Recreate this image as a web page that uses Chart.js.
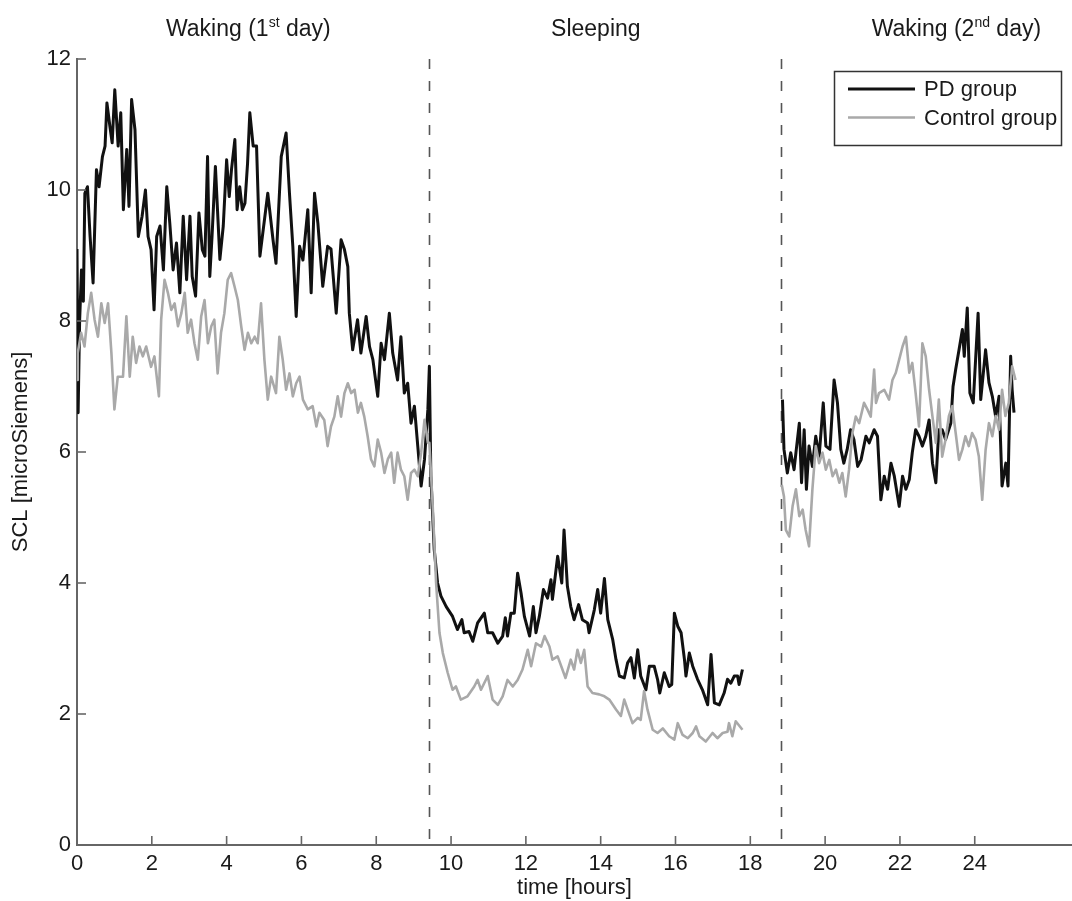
<!DOCTYPE html>
<html>
<head>
<meta charset="utf-8">
<title>SCL PD vs Control</title>
<script src="https://cdn.jsdelivr.net/npm/chart.js@4.4.1/dist/chart.umd.min.js"></script>
<style>
  body { margin: 0; background: #fff; }
  #wrap { width: 1072px; height: 901px; }
</style>
</head>
<body>
<div id="wrap"><canvas id="grafico" width="1072" height="901"></canvas></div>
<script>
// hours / SCL values (null = gap between sleep and 2nd day)
const pdTime = [
  0.00,0.03,0.07,0.12,0.17,0.21,0.28,0.35,0.43,0.52,0.59,0.68,0.75,0.80,0.88,0.94,1.01,1.10,1.17,1.24,
  1.33,1.39,1.46,1.55,1.64,1.74,1.83,1.90,1.98,2.06,2.13,2.22,2.31,2.40,2.48,2.57,2.66,2.75,2.84,2.93,
  3.02,3.08,3.17,3.26,3.35,3.42,3.49,3.55,3.61,3.70,3.82,3.91,4.00,4.07,4.13,4.22,4.28,4.35,4.42,4.49,
  4.56,4.62,4.71,4.80,4.89,5.10,5.24,5.32,5.46,5.59,5.68,5.77,5.86,5.95,6.04,6.17,6.26,6.35,6.44,6.57,
  6.70,6.79,6.93,7.06,7.15,7.24,7.28,7.37,7.50,7.59,7.73,7.82,7.91,8.04,8.13,8.22,8.35,8.44,8.57,8.66,
  8.75,8.84,8.93,9.02,9.11,9.20,9.29,9.38,9.42,9.46,9.51,9.55,9.64,9.73,9.87,10.04,10.17,10.29,10.35,10.48,
  10.58,10.71,10.89,10.98,11.11,11.25,11.38,11.45,11.51,11.60,11.69,11.78,11.87,11.96,12.10,12.20,12.27,12.36,12.47,12.58,
  12.67,12.71,12.85,12.96,13.02,13.11,13.20,13.29,13.41,13.51,13.65,13.69,13.83,13.92,14.00,14.10,14.19,14.32,14.41,14.50,
  14.63,14.72,14.81,14.90,14.99,15.07,15.21,15.30,15.43,15.52,15.58,15.70,15.83,15.90,15.97,16.06,16.15,16.24,16.28,16.37,
  16.46,16.59,16.72,16.86,16.95,17.04,17.17,17.30,17.39,17.48,17.57,17.66,17.70,17.79,18.30,
  18.86,18.90,18.99,19.08,19.17,19.22,19.31,19.37,19.44,19.50,19.57,19.66,19.75,19.84,19.95,20.02,20.13,20.24,20.33,20.42,
  20.50,20.59,20.68,20.77,20.87,20.96,21.09,21.18,21.31,21.40,21.49,21.58,21.67,21.76,21.85,21.98,22.07,22.16,22.25,22.33,
  22.42,22.51,22.60,22.69,22.78,22.87,22.96,23.04,23.13,23.22,23.36,23.42,23.49,23.58,23.67,23.72,23.80,23.87,23.96,24.09,
  24.16,24.29,24.38,24.47,24.56,24.65,24.73,24.83,24.89,24.96,25.00,25.05
]
const pdScl = [
  9.10,6.60,8.00,8.78,8.30,9.95,10.05,9.29,8.58,10.31,10.05,10.51,10.67,11.33,10.97,10.72,11.53,10.67,11.18,9.70,
  10.62,9.75,11.38,10.92,9.29,9.60,10.00,9.29,9.09,8.17,9.29,9.45,8.78,10.05,9.50,8.78,9.19,8.43,9.60,8.63,
  9.60,8.68,8.38,9.65,9.09,8.99,10.51,8.68,9.29,10.36,8.94,9.45,10.46,9.90,10.31,10.77,9.70,10.05,9.70,9.80,
  10.41,11.18,10.67,10.67,8.99,9.95,9.24,8.88,10.51,10.87,9.95,9.14,8.07,9.14,8.93,9.70,8.43,9.95,9.49,8.53,
  9.14,9.10,8.12,9.24,9.09,8.83,8.12,7.56,8.02,7.51,8.07,7.61,7.41,6.85,7.66,7.41,8.12,7.51,7.10,7.76,
  6.90,7.05,6.44,6.70,6.09,5.48,5.89,6.65,7.31,5.63,5.02,4.51,4.00,3.80,3.64,3.49,3.29,3.44,3.24,3.26,
  3.11,3.39,3.54,3.24,3.24,3.08,3.19,3.47,3.19,3.54,3.54,4.15,3.85,3.49,3.19,3.64,3.24,3.49,3.90,3.77,
  4.05,3.75,4.41,4.00,4.81,3.95,3.64,3.44,3.67,3.44,3.39,3.24,3.59,3.90,3.54,4.07,3.44,3.14,2.83,2.58,
  2.55,2.78,2.86,2.55,2.98,2.58,2.37,2.73,2.73,2.53,2.32,2.63,2.42,2.45,3.54,3.34,3.24,2.83,2.58,2.93,
  2.73,2.53,2.37,2.14,2.91,2.17,2.14,2.32,2.53,2.47,2.58,2.58,2.45,2.68,null,
  6.80,6.04,5.68,5.99,5.73,5.99,6.44,5.53,6.34,5.43,6.09,5.78,6.24,5.93,6.75,6.09,6.04,7.10,6.75,6.04,
  5.83,6.04,6.34,6.19,5.78,5.88,6.24,6.14,6.34,6.24,5.27,5.63,5.43,5.83,5.63,5.17,5.63,5.43,5.58,5.99,
  6.34,6.24,6.09,6.24,6.49,5.83,5.53,6.34,6.34,6.19,6.44,7.00,7.26,7.56,7.87,7.46,8.20,6.90,6.75,8.12,
  6.80,7.56,7.06,6.85,6.54,6.85,5.48,5.83,5.48,7.46,6.95,6.60
]
const ctrlTime = [
  0.00,0.02,0.11,0.20,0.29,0.38,0.47,0.56,0.65,0.74,0.83,0.92,1.00,1.09,1.23,1.32,1.41,1.49,1.58,1.67,
  1.76,1.85,1.98,2.07,2.19,2.25,2.34,2.43,2.52,2.61,2.70,2.79,2.88,2.96,3.05,3.14,3.23,3.32,3.41,3.50,
  3.59,3.67,3.76,3.85,3.94,4.03,4.12,4.21,4.30,4.39,4.48,4.57,4.66,4.75,4.83,4.92,5.01,5.10,5.19,5.32,
  5.41,5.50,5.59,5.68,5.77,5.86,5.95,6.04,6.17,6.30,6.40,6.48,6.61,6.70,6.79,6.88,6.97,7.06,7.15,7.24,
  7.33,7.42,7.51,7.59,7.68,7.77,7.86,7.95,8.04,8.13,8.22,8.31,8.40,8.48,8.57,8.66,8.75,8.84,8.93,9.02,
  9.11,9.20,9.29,9.38,9.42,9.51,9.60,9.69,9.78,9.91,10.04,10.13,10.26,10.44,10.62,10.71,10.80,10.98,11.11,11.25,
  11.38,11.51,11.65,11.78,11.91,12.05,12.14,12.27,12.41,12.50,12.63,12.71,12.85,13.06,13.20,13.29,13.38,13.47,13.56,13.65,
  13.78,13.96,14.10,14.23,14.41,14.54,14.63,14.72,14.85,14.99,15.07,15.16,15.25,15.39,15.52,15.66,15.83,15.97,16.06,16.19,
  16.33,16.46,16.55,16.64,16.81,16.99,17.12,17.26,17.39,17.43,17.52,17.61,17.79,18.30,
  18.84,18.90,18.95,19.04,19.13,19.22,19.31,19.40,19.48,19.57,19.66,19.75,19.84,19.93,20.02,20.11,20.20,20.29,20.38,20.46,
  20.55,20.64,20.73,20.82,20.91,21.04,21.13,21.22,21.31,21.36,21.44,21.58,21.71,21.80,21.89,21.98,22.07,22.16,22.25,22.33,
  22.42,22.51,22.60,22.69,22.78,22.87,22.96,23.04,23.13,23.22,23.31,23.40,23.49,23.58,23.67,23.75,23.84,23.93,24.02,24.11,
  24.20,24.29,24.38,24.47,24.56,24.65,24.73,24.82,24.91,25.00,25.09
]
const ctrlScl = [
  7.10,7.51,7.82,7.61,8.12,8.43,8.02,7.76,8.27,7.97,8.27,7.51,6.65,7.15,7.15,8.07,7.15,7.76,7.36,7.61,
  7.46,7.61,7.30,7.46,6.85,8.02,8.63,8.43,8.17,8.27,7.92,8.12,8.43,7.82,8.02,7.66,7.41,8.07,8.32,7.66,
  7.92,8.02,7.20,7.82,8.12,8.63,8.73,8.53,8.32,7.92,7.56,7.82,7.66,7.76,7.66,8.27,7.41,6.80,7.15,6.90,
  7.76,7.41,6.95,7.20,6.85,7.05,7.15,6.80,6.65,6.70,6.39,6.60,6.49,6.09,6.39,6.54,6.85,6.54,6.90,7.05,
  6.90,6.95,6.60,6.75,6.54,6.24,5.89,5.78,6.19,5.99,5.68,5.89,5.99,5.53,5.99,5.73,5.63,5.27,5.68,5.73,
  5.63,5.99,6.49,6.14,6.14,5.17,4.00,3.24,2.93,2.63,2.37,2.42,2.22,2.27,2.42,2.52,2.37,2.58,2.22,2.14,
  2.27,2.52,2.42,2.52,2.68,2.98,2.73,3.08,3.03,3.19,3.03,2.83,2.88,2.55,2.83,2.68,2.98,2.78,2.98,2.42,
  2.32,2.30,2.27,2.22,2.07,1.97,2.22,2.07,1.86,1.94,1.91,2.35,2.07,1.76,1.71,1.78,1.66,1.61,1.86,1.68,
  1.63,1.71,1.81,1.66,1.58,1.71,1.63,1.71,1.73,1.86,1.66,1.89,1.76,null,
  5.50,5.32,4.81,4.71,5.17,5.43,5.02,5.12,4.81,4.56,5.43,6.09,5.83,5.99,5.73,5.88,5.63,5.73,5.53,5.68,
  5.32,5.73,6.29,6.54,6.44,6.75,6.65,6.54,7.26,6.75,6.90,6.95,6.80,7.10,7.21,7.41,7.61,7.76,7.21,7.36,
  6.90,6.39,7.66,7.46,6.95,6.54,6.14,6.80,5.93,6.19,6.55,6.70,6.29,5.88,6.04,6.24,6.09,6.29,6.19,5.93,
  5.27,6.03,6.44,6.24,6.55,6.34,6.95,6.55,6.75,7.31,7.10
]
const xTicks = [0, 2, 4, 6, 8, 10, 12, 14, 16, 18, 20, 22, 24]
const yTicks = [0, 2, 4, 6, 8, 10, 12]
const phaseDividers = [9.42, 18.83]
const phaseNames = [['Waking (1', 'st', ' day)'], ['Sleeping', '', ''], ['Waking (2', 'nd', ' day)']]
const phaseCenters = [4.58, 13.87, 23.51]

const FONT = '"Liberation Sans", Arial, Helvetica, sans-serif'
const toPoints = (xs, ys) => xs.map((x, i) => ({ x: x, y: ys[i] }))

// dashed phase lines, inward tick marks, phase titles and the boxed legend
const decorPlugin = {
  id: 'decor',
  beforeDatasetsDraw(chart) {
    const { ctx, chartArea, scales } = chart
    ctx.save()
    ctx.strokeStyle = '#555'
    ctx.lineWidth = 1.6
    ctx.setLineDash([10, 12])
    phaseDividers.forEach(h => {
      const px = Math.round(scales.x.getPixelForValue(h)) + 0.5
      ctx.beginPath()
      ctx.moveTo(px, chartArea.top)
      ctx.lineTo(px, chartArea.bottom)
      ctx.stroke()
    })
    ctx.restore()
  },
  afterDraw(chart) {
    const { ctx, chartArea, scales } = chart
    ctx.save()
    ctx.strokeStyle = '#666'
    ctx.lineWidth = 1.6
    xTicks.forEach(v => {
      if (v === 0) return
      const px = scales.x.getPixelForValue(v)
      ctx.beginPath()
      ctx.moveTo(px, chartArea.bottom)
      ctx.lineTo(px, chartArea.bottom - 9)
      ctx.stroke()
    })
    yTicks.forEach(v => {
      if (v === 0) return
      const py = scales.y.getPixelForValue(v)
      ctx.beginPath()
      ctx.moveTo(chartArea.left, py)
      ctx.lineTo(chartArea.left + 9, py)
      ctx.stroke()
    })

    // phase titles with superscripts
    ctx.fillStyle = '#1a1a1a'
    ctx.textBaseline = 'alphabetic'
    ctx.textAlign = 'left'
    phaseNames.forEach((parts, i) => {
      ctx.font = '23px ' + FONT
      const w0 = ctx.measureText(parts[0]).width
      const w2 = ctx.measureText(parts[2]).width
      ctx.font = '14px ' + FONT
      const w1 = ctx.measureText(parts[1]).width
      const cx = scales.x.getPixelForValue(phaseCenters[i])
      let x = cx - (w0 + w1 + w2) / 2
      ctx.font = '23px ' + FONT
      ctx.fillText(parts[0], x, 35.5)
      x += w0
      ctx.font = '14px ' + FONT
      ctx.fillText(parts[1], x, 27)
      x += w1
      ctx.font = '23px ' + FONT
      ctx.fillText(parts[2], x, 35.5)
    })

    // legend box
    const bx = chartArea.right - 238, by = chartArea.top + 12, bw = 227, bh = 74
    ctx.fillStyle = '#fff'
    ctx.fillRect(bx, by, bw, bh)
    ctx.strokeStyle = '#333'
    ctx.lineWidth = 1.5
    ctx.strokeRect(bx + 0.5, by + 0.5, bw, bh)
    const order = [1, 0]
    order.forEach((di, row) => {
      const ds = chart.data.datasets[di]
      const ly = by + 18 + row * 28.5
      ctx.strokeStyle = ds.borderColor
      ctx.lineWidth = ds.borderWidth
      ctx.beginPath()
      ctx.moveTo(bx + 14, ly)
      ctx.lineTo(bx + 81, ly)
      ctx.stroke()
      ctx.fillStyle = '#1a1a1a'
      ctx.font = '22px ' + FONT
      ctx.textBaseline = 'middle'
      ctx.fillText(ds.label, bx + 90, ly + 1)
    })
    ctx.restore()
  }
}

const ctx = document.getElementById('grafico')
new Chart(ctx, {
  type: 'line',
  data: {
    datasets: [
      {
        label: 'Control group',
        data: toPoints(ctrlTime, ctrlScl),
        borderColor: '#a9a9a9',
        borderWidth: 2.6,
        pointRadius: 0,
        spanGaps: false,
        order: 1
      },
      {
        label: 'PD group',
        data: toPoints(pdTime, pdScl),
        borderColor: '#111111',
        borderWidth: 3,
        pointRadius: 0,
        spanGaps: false,
        order: 2
      }
    ]
  },
  options: {
    responsive: false,
    animation: false,
    layout: { padding: { top: 59, right: 0, bottom: 0, left: 0 } },
    elements: { line: { tension: 0, borderJoinStyle: 'round' } },
    plugins: { legend: { display: false }, tooltip: { enabled: false } },
    scales: {
      x: {
        type: 'linear',
        min: 0,
        max: 26.6,
        afterBuildTicks: scale => { scale.ticks = xTicks.map(v => ({ value: v })) },
        afterFit: scale => { scale.height = 56 },
        grid: { display: false, drawTicks: false },
        border: { display: true, color: '#666', width: 2 },
        ticks: { autoSkip: false, maxRotation: 0, padding: 6, color: '#1a1a1a', font: { family: FONT, size: 22 } },
        title: { display: true, text: 'time [hours]', color: '#1a1a1a', padding: { top: 0, bottom: 0 }, font: { family: FONT, size: 22 } }
      },
      y: {
        min: 0,
        max: 12,
        afterBuildTicks: scale => { scale.ticks = yTicks.map(v => ({ value: v })) },
        afterFit: scale => { scale.width = 77 },
        grid: { display: false, drawTicks: false },
        border: { display: true, color: '#666', width: 2 },
        ticks: { autoSkip: false, padding: 6, color: '#1a1a1a', font: { family: FONT, size: 22 } },
        title: { display: true, text: 'SCL [microSiemens]', color: '#1a1a1a', padding: { top: 8, bottom: 0 }, font: { family: FONT, size: 22 } }
      }
    }
  },
  plugins: [decorPlugin]
})
</script>
</body>
</html>
